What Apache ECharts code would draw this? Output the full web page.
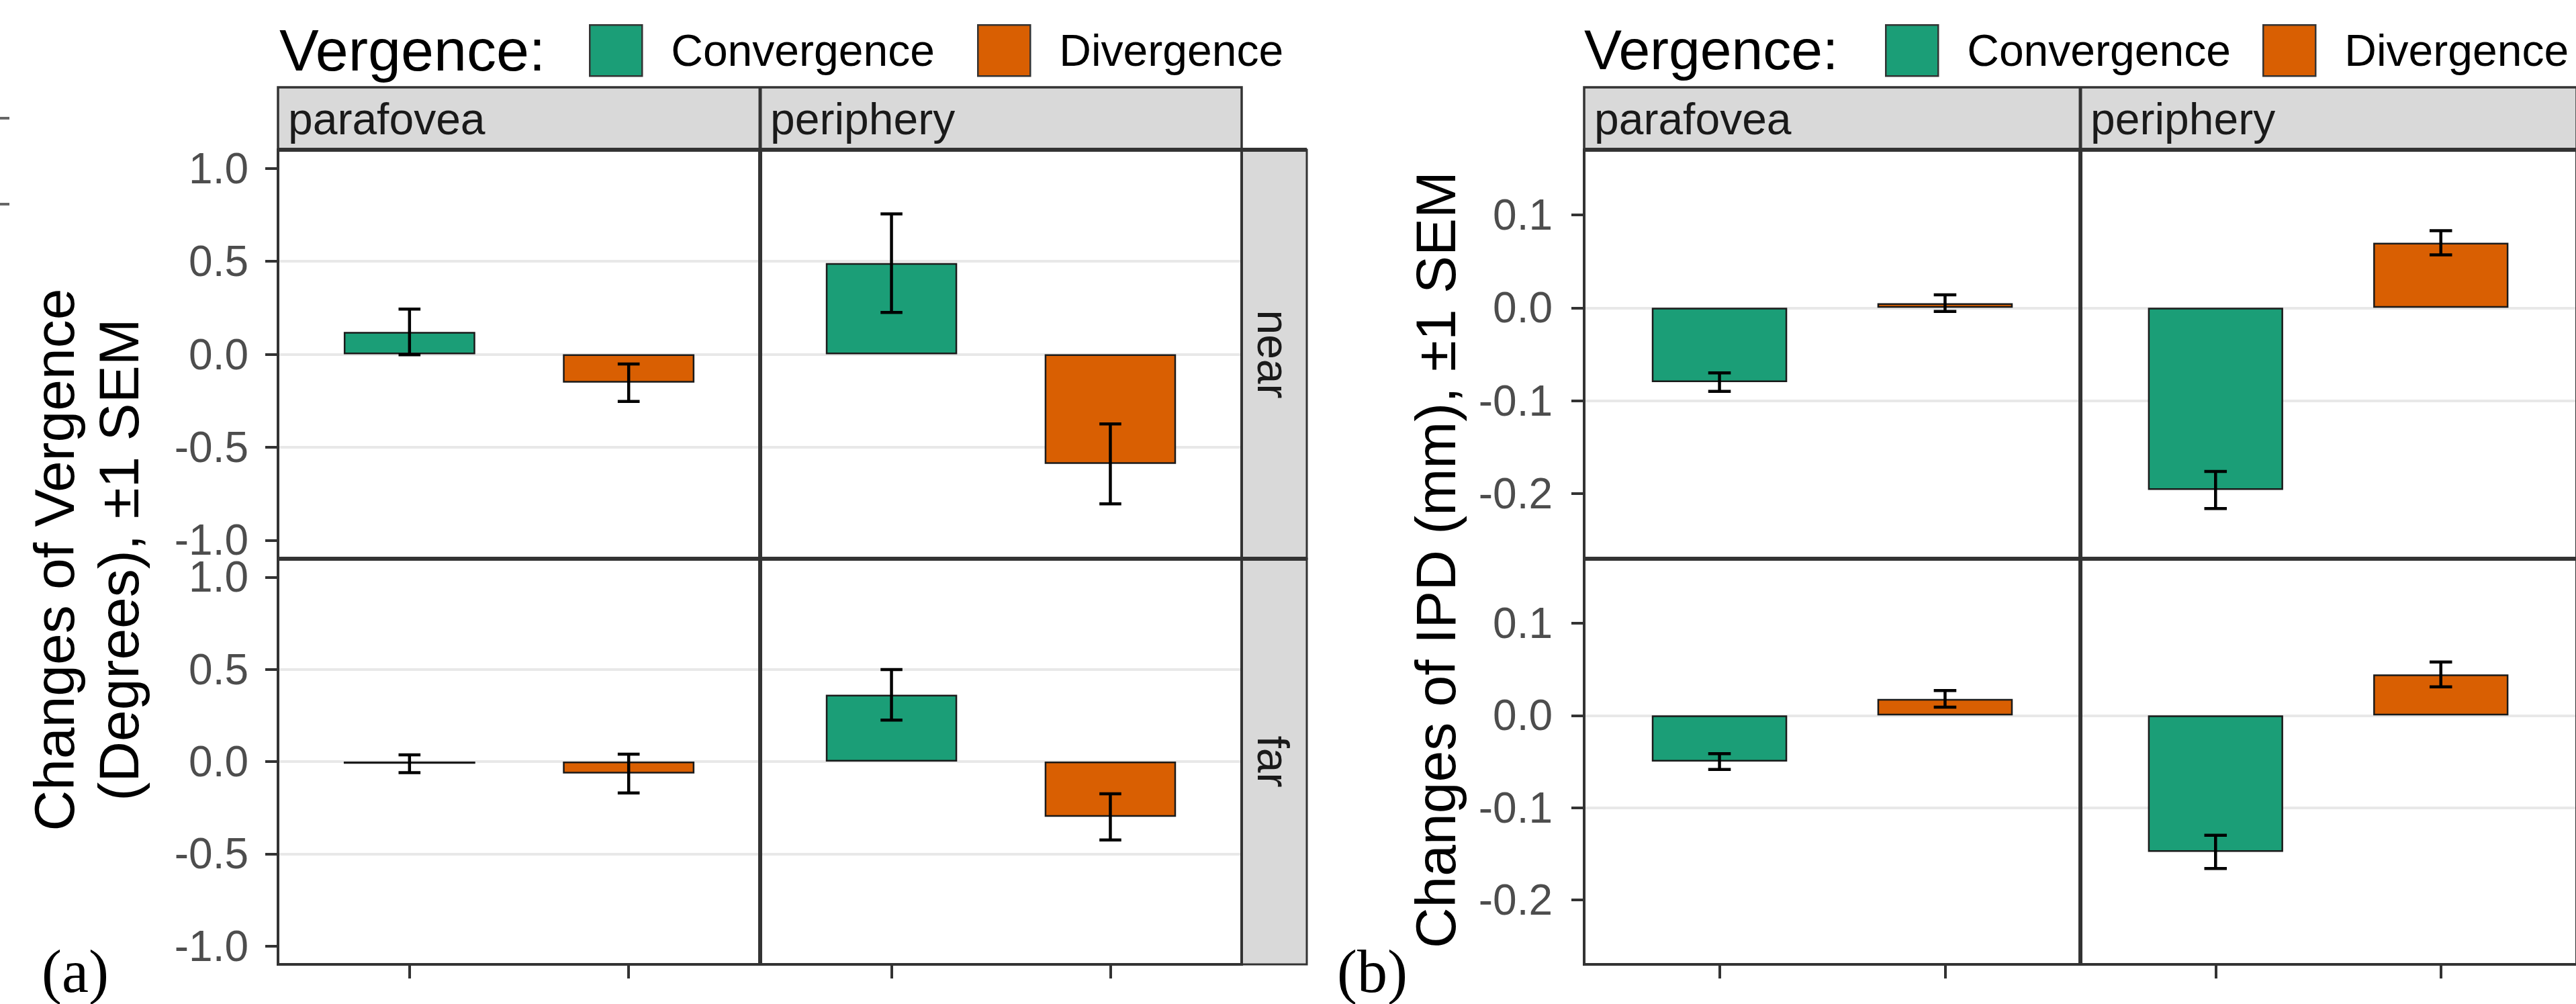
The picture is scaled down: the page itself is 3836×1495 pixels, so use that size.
<!DOCTYPE html>
<html>
<head>
<meta charset="utf-8">
<script src="https://cdn.jsdelivr.net/npm/echarts@6/dist/echarts.min.js"></script>
<style>
html,body{margin:0;padding:0;background:#ffffff;}
#chart{width:3836px;height:1495px;}
</style>
</head>
<body>
<div id="chart"></div>
<script>
// ---------------- data ----------------
const vergenceLevels = ['Convergence', 'Divergence'];
const regionLevels = ['parafovea', 'periphery'];
const distanceLevels = ['near', 'far'];

// (a) Changes of vergence (degrees); order: [parafovea Conv, parafovea Div, periphery Conv, periphery Div]
const degreesNearMean = [0.120, -0.153, 0.490, -0.590];
const degreesNearSem  = [0.123, 0.101, 0.265, 0.215];
const degreesFarMean  = [-0.012, -0.065, 0.362, -0.300];
const degreesFarSem   = [0.048, 0.105, 0.137, 0.125];

// (b) Changes of IPD (mm); same order
const ipdNearMean = [-0.080, 0.005, -0.196, 0.070];
const ipdNearSem  = [0.010, 0.009, 0.020, 0.013];
const ipdFarMean  = [-0.050, 0.018, -0.148, 0.0445];
const ipdFarSem   = [0.0085, 0.009, 0.018, 0.0135];

const degreesTicks = [-1.0, -0.5, 0.0, 0.5, 1.0];
const ipdTicks = [-0.2, -0.1, 0.0, 0.1];

const degreesTitle = 'Changes of Vergence\n(Degrees), \u00b11 SEM';
const ipdTitle = 'Changes of IPD (mm), \u00b11 SEM';
const legendTitle = 'Vergence:';
const panelTags = ['(a)', '(b)'];

// ---------------- styles / layout ----------------
const COLORS = ['#1b9e77', '#d95f02'];
const SANS = '"Liberation Sans", Arial, Helvetica, sans-serif';
const SERIF = '"Liberation Serif", "Times New Roman", serif';
const BORDER = '#333333';
const STRIP_FILL = '#d9d9d9';
const STRIP_TOP = 130;
const ROWS = [223, 832, 1436];
const RIGHT_STRIP_W = 97;
const CAP = 0.1;

const charts = [
  {
    cols: [414, 1132, 1849], yMin: -1.1, yMax: 1.1, ticks: degreesTicks,
    mean: [degreesNearMean, degreesFarMean], sem: [degreesNearSem, degreesFarSem],
    title: degreesTitle, titleX: 129, titleLH: 96,
    tag: panelTags[0], tagX: 62,
    legendX: 416, keyX: [877, 1455], labelMargin: 44, rightStrip: true
  },
  {
    cols: [2359, 3098, 3837], yMin: -0.27, yMax: 0.17, ticks: ipdTicks,
    mean: [ipdNearMean, ipdFarMean], sem: [ipdNearSem, ipdFarSem],
    title: ipdTitle, titleX: 2138, titleLH: 100,
    tag: panelTags[1], tagX: 1991,
    legendX: 2359, keyX: [2807, 3369], labelMargin: 47, rightStrip: false
  }
];

const grid = [], xAxis = [], yAxis = [], series = [], graphic = [], legend = [];

function errRender(params, api) {
  const x = api.value(0), lo = api.value(1), hi = api.value(2);
  const pLo = api.coord([x, lo]);
  const pHi = api.coord([x, hi]);
  const xl = api.coord([x - CAP / 2, lo])[0];
  const xr = api.coord([x + CAP / 2, lo])[0];
  const st = { stroke: '#000000', lineWidth: 4.5 };
  return {
    type: 'group',
    children: [
      { type: 'line', shape: { x1: pLo[0], y1: pLo[1], x2: pHi[0], y2: pHi[1] }, style: st },
      { type: 'line', shape: { x1: xl, y1: pLo[1], x2: xr, y2: pLo[1] }, style: st },
      { type: 'line', shape: { x1: xl, y1: pHi[1], x2: xr, y2: pHi[1] }, style: st }
    ]
  };
}

charts.forEach(function (ch, ci) {
  for (let r = 0; r < 2; r++) {
    for (let c = 0; c < 2; c++) {
      const g = grid.length;
      grid.push({
        left: ch.cols[c], top: ROWS[r],
        width: ch.cols[c + 1] - ch.cols[c], height: ROWS[r + 1] - ROWS[r],
        containLabel: false, show: false
      });
      xAxis.push({
        type: 'value', gridIndex: g, min: 0.4, max: 2.6, position: 'bottom',
        axisLine: { show: false, onZero: false },
        axisTick: { show: r === 1, customValues: [1, 2], length: 21, lineStyle: { color: BORDER, width: 4 } },
        axisLabel: { show: false },
        splitLine: { show: false }
      });
      yAxis.push({
        type: 'value', gridIndex: g, min: ch.yMin, max: ch.yMax, position: 'left',
        axisLine: { show: false, onZero: false },
        axisTick: { show: c === 0, customValues: ch.ticks, length: 19, lineStyle: { color: BORDER, width: 4 } },
        axisLabel: {
          show: c === 0, customValues: ch.ticks, margin: ch.labelMargin,
          formatter: function (v) { return Number(v).toFixed(1); },
          fontFamily: SANS, fontSize: 64, color: '#4d4d4d'
        },
        splitLine: { show: true, showMinLine: false, showMaxLine: false, lineStyle: { color: '#e8e8e8', width: 4 } }
      });
      const means = ch.mean[r], sems = ch.sem[r];
      const errData = [];
      vergenceLevels.forEach(function (vName, vi) {
        const idx = c * 2 + vi;
        series.push({
          type: 'bar', name: vName, xAxisIndex: g, yAxisIndex: g,
          data: [[vi + 1, means[idx]]],
          barWidth: '60%', barGap: '-100%',
          itemStyle: { color: COLORS[vi], borderColor: '#1a1a1a', borderWidth: 2.5 },
          emphasis: { disabled: true },
          animation: false, z: 2
        });
        errData.push([vi + 1, means[idx] - sems[idx], means[idx] + sems[idx]]);
      });
      series.push({
        type: 'custom', name: 'sem', xAxisIndex: g, yAxisIndex: g,
        data: errData, encode: { x: 0, y: [1, 2] },
        renderItem: errRender, clip: false, animation: false, z: 5, silent: true
      });
    }
  }

  // legends (one per key so positions can be matched)
  vergenceLevels.forEach(function (vName, vi) {
    legend.push({
      data: [vName], left: ch.keyX[vi], top: 36, padding: 0,
      orient: 'horizontal', selectedMode: false,
      icon: 'rect', itemWidth: 78, itemHeight: 76,
      itemStyle: { borderColor: '#333333', borderWidth: 2.5 },
      textStyle: { fontFamily: SANS, fontSize: 66, color: '#000000', padding: [0, 0, 0, 38] }
    });
  });

  const L = ch.cols[0], M = ch.cols[1], R = ch.cols[2];
  // legend title
  graphic.push({ type: 'text', x: ch.legendX, y: 74, z: 100,
    style: { text: legendTitle, font: (ci === 0 ? 88 : 84) + 'px ' + SANS, fill: '#000000', align: 'left', verticalAlign: 'middle' } });
  // top strips
  graphic.push({ type: 'rect', z: 90, shape: { x: L, y: STRIP_TOP, width: R - L, height: ROWS[0] - STRIP_TOP },
    style: { fill: STRIP_FILL, stroke: BORDER, lineWidth: 3.5 } });
  graphic.push({ type: 'line', z: 101, shape: { x1: M, y1: STRIP_TOP, x2: M, y2: ROWS[0] },
    style: { stroke: BORDER, lineWidth: 5 } });
  regionLevels.forEach(function (reg, c) {
    graphic.push({ type: 'text', z: 102, x: ch.cols[c] + 15, y: 177,
      style: { text: reg, font: '66px ' + SANS, fill: '#1a1a1a', align: 'left', verticalAlign: 'middle' } });
  });
  // right strips (the one of panel b lies outside the picture)
  if (ch.rightStrip) {
    distanceLevels.forEach(function (dist, r) {
      graphic.push({ type: 'rect', z: 90, shape: { x: R, y: ROWS[r], width: RIGHT_STRIP_W, height: ROWS[r + 1] - ROWS[r] },
        style: { fill: STRIP_FILL, stroke: BORDER, lineWidth: 3 } });
      graphic.push({ type: 'text', z: 102, x: R + RIGHT_STRIP_W / 2 - 2, y: (ROWS[r] + ROWS[r + 1]) / 2,
        rotation: -Math.PI / 2,
        style: { text: dist, font: '66px ' + SANS, fill: '#1a1a1a', align: 'center', verticalAlign: 'middle' } });
    });
  }
  const lineEnd = ch.rightStrip ? R + RIGHT_STRIP_W : R;
  // panel borders
  graphic.push({ type: 'rect', z: 100, shape: { x: L, y: ROWS[0], width: R - L, height: ROWS[2] - ROWS[0] },
    style: { fill: 'none', stroke: BORDER, lineWidth: 4 } });
  graphic.push({ type: 'line', z: 101, shape: { x1: M, y1: ROWS[0], x2: M, y2: ROWS[2] },
    style: { stroke: BORDER, lineWidth: 6 } });
  graphic.push({ type: 'line', z: 101, shape: { x1: L, y1: ROWS[1], x2: lineEnd, y2: ROWS[1] },
    style: { stroke: BORDER, lineWidth: 6 } });
  graphic.push({ type: 'line', z: 101, shape: { x1: L, y1: ROWS[0], x2: lineEnd, y2: ROWS[0] },
    style: { stroke: BORDER, lineWidth: 6 } });
  // y axis title
  graphic.push({ type: 'text', z: 100, x: ch.titleX, y: (ROWS[0] + ROWS[2]) / 2 + 4, rotation: Math.PI / 2,
    style: { text: ch.title, font: '84px ' + SANS, fill: '#000000', align: 'center', verticalAlign: 'middle', lineHeight: ch.titleLH } });
  // panel tag
  graphic.push({ type: 'text', z: 100, x: ch.tagX, y: 1446,
    style: { text: ch.tag, font: '90px ' + SERIF, fill: '#000000', align: 'left', verticalAlign: 'middle' } });
});

// small cropped-off marks at the far left edge of the picture
graphic.push({ type: 'line', z: 100, shape: { x1: 0, y1: 176, x2: 14, y2: 176 }, style: { stroke: '#666666', lineWidth: 4 } });
graphic.push({ type: 'line', z: 100, shape: { x1: 0, y1: 304, x2: 14, y2: 304 }, style: { stroke: '#666666', lineWidth: 4 } });

const chart = echarts.init(document.getElementById('chart'), null, { renderer: 'svg', width: 3836, height: 1495 });
chart.setOption({
  backgroundColor: '#ffffff',
  animation: false,
  textStyle: { fontFamily: SANS },
  grid: grid, xAxis: xAxis, yAxis: yAxis,
  legend: legend,
  series: series,
  graphic: { elements: graphic }
});
</script>
</body>
</html>
